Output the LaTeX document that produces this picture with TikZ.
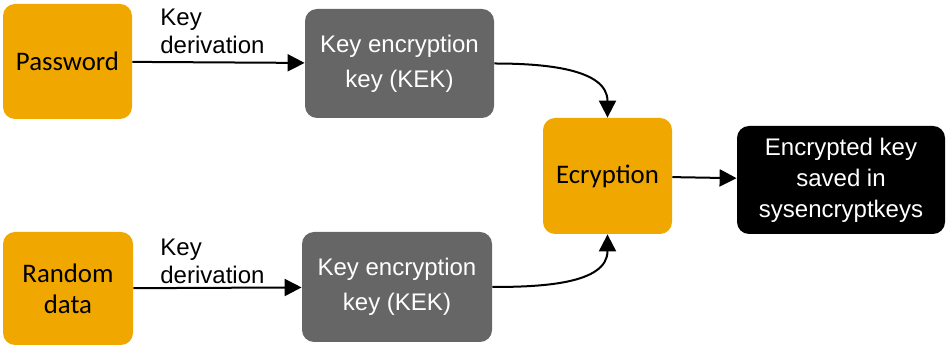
\documentclass[tikz,border=0pt]{standalone}
\usepackage{fontspec}
\setmainfont{Liberation Sans}
\newfontfamily\carlito{Carlito}
\usetikzlibrary{arrows.meta}
\definecolor{boxorange}{RGB}{240,168,0}
\definecolor{boxgray}{RGB}{102,102,102}
\begin{document}
\begin{tikzpicture}[x=0.5pt,y=0.5pt]
		\begin{scope}
		
		\tikzstyle{orangebox}=[rectangle,
		rounded corners=6pt,
		fill=boxorange,
		text=black,
		align=center,
		inner sep=0pt,
		minimum width=64.5pt,
		minimum height=57.5pt,
		font=\carlito\fontsize{13.4}{15.5}\selectfont
		]
		\tikzstyle{graybox}=[rectangle,
		rounded corners=6pt,
		fill=boxgray,
		text=white,
		align=center,
		inner sep=0pt,
		minimum width=95pt,
		minimum height=55pt,
		font=\fontsize{12}{17.5}\selectfont
		]
		\tikzstyle{blackbox}=[rectangle,
		rounded corners=6pt,
		fill=black,
		text=white,
		align=center,
		inner sep=0pt,
		minimum width=104pt,
		minimum height=54pt,
		font=\fontsize{12}{15.5}\selectfont
		]
		\tikzstyle{steplabel}=[align=left,
		anchor=west,
		inner sep=0pt,
		font=\fontsize{12}{14}\selectfont
		]
		\tikzstyle{myarrow}=[line width=1pt,
		-{Triangle[length=8.5pt,width=8.5pt]}
		]
		
		\useasboundingbox (0,0) rectangle (947,347);
		
		\coordinate (ppw) at (67.5, 285.5);
		\coordinate (pkek1) at (399.5, 283.5);
		\coordinate (pecr) at (607.5, 171);
		\coordinate (penc) at (841, 167);
		\coordinate (prnd) at (68, 58.5);
		\coordinate (pkek2) at (397, 60);
		\coordinate (plbl1) at (160, 316);
		\coordinate (plbl2) at (160, 86);
		
		\node[orangebox] (pw) at (ppw) {Password};
		\node[graybox, minimum width=94.5pt, minimum height=54.5pt] (kek1) at (pkek1) {Key encryption\\key (KEK)};
		\node[orangebox, minimum height=58pt] (ecr) at (pecr) {Ecryption};
		\node[blackbox] (enc) at (penc) {Encrypted key\\saved in\\sysencryptkeys};
		\node[orangebox, minimum width=65pt, minimum height=56.5pt] (rnd) at (prnd) {Random\\data};
		\node[graybox] (kek2) at (pkek2) {Key encryption\\key (KEK)};
		
		\node[steplabel] (lbl1) at (plbl1) {Key\\derivation};
		\node[steplabel] (lbl2) at (plbl2) {Key\\derivation};
		
		\draw[myarrow] (pw) -- (kek1);
		\draw[myarrow] (rnd) -- (kek2);
		\draw[myarrow] (kek1.east) to[out=0, in=90] (ecr.north);
		\draw[myarrow] (kek2.east) to[out=0, in=-90] (ecr.south);
		\draw[myarrow] (ecr) -- (enc);
		
		\end{scope}
\end{tikzpicture}
\end{document}
